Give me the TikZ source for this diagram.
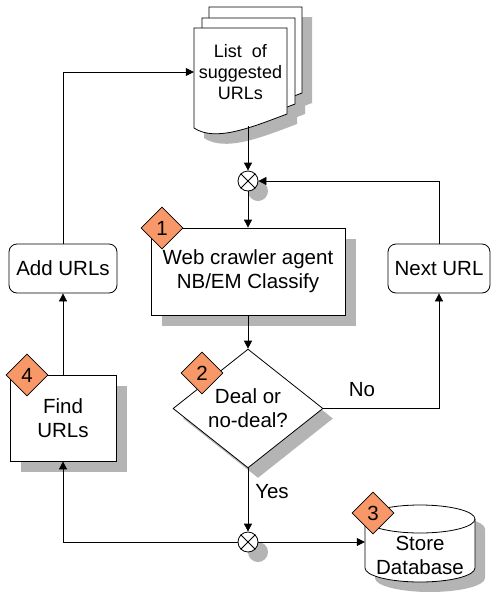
\documentclass[tikz,border=0pt]{standalone}
\usepackage{fontspec}
\setmainfont{Liberation Sans}
\usetikzlibrary{arrows.meta,shapes.geometric,shadows}
\definecolor{badgeorange}{RGB}{248,152,104}
\definecolor{shadowgray}{RGB}{180,180,180}
\tikzset{
  conn/.style={draw=black, line width=0.8pt},
  arr/.style={conn, -{Triangle[length=8pt,width=8pt]}},
  txt/.style={font=\fontsize{20.5}{24}\selectfont, align=center},
  procbox/.style={txt, draw, line width=0.8pt, fill=white, inner sep=0pt},
  shad/.style={drop shadow={shadow xshift=#1, shadow yshift=-#1, opacity=1, fill=shadowgray}},
  roundbox/.style={procbox, rounded corners=8pt, minimum height=49pt},
  junction/.style={circle, draw, line width=0.8pt, fill=white, minimum size=20pt, inner sep=0pt, shad=10pt},
  badge/.style={diamond, draw, line width=0.8pt, fill=badgeorange, minimum size=42pt, inner sep=0pt, txt},
  pageshape/.style={fill=white, draw=black, line width=0.8pt},
}
\begin{document}
\begin{tikzpicture}[x=1pt,y=-1pt]
\useasboundingbox (0,0) rectangle (491,598);
\fill[white] (0,0) rectangle (491,598);

% stacked document: shadows first
\foreach \dx/\dy in {15/-21, 8/-10, 0/0}{
  \fill[shadowgray, shift={(\dx+10,\dy+10)}] (194,28) -- (287,28) -- (287,114)
     .. controls (250,128) and (215,142) .. (194,128) -- cycle;
}
\foreach \dx/\dy in {15/-21, 8/-10, 0/0}{
  \filldraw[pageshape, shift={(\dx,\dy)}] (194,28) -- (287,28) -- (287,114)
     .. controls (250,128) and (215,142) .. (194,128) -- cycle;
}
\node[font=\fontsize{18}{21}\selectfont, align=center, minimum width=93pt, inner sep=0pt] (doc) at (240.5,72) {List~ of\\suggested\\URLs};
\coordinate (docb) at (248,126);

% junctions
\node[junction] (j1) at (248,181) {};
\draw[line width=0.8pt] (j1.north west) -- (j1.south east) (j1.north east) -- (j1.south west);
\node[junction] (j2) at (248,542) {};
\draw[line width=0.8pt] (j2.north west) -- (j2.south east) (j2.north east) -- (j2.south west);

% main process
\node[procbox, shad=11pt, minimum width=194pt, minimum height=87pt] (crawl) at (248,271.5) {Web crawler agent\\NB/EM Classify};

% decision
\node[diamond, draw, line width=0.8pt, fill=white, minimum width=150pt, minimum height=107pt, inner sep=0pt, txt, shad=10pt] (dec) at (248,408.5) {Deal or\\no-deal?};

% side boxes
\node[roundbox, minimum width=108pt] (add) at (63,268.5) {Add URLs};
\node[roundbox, minimum width=102pt] (next) at (439,268.5) {Next URL};
\node[procbox, shad=11pt, minimum width=106pt, minimum height=86pt] (find) at (63,418) {Find\\URLs};

% database cylinder
\begin{scope}[shift={(10,10)}]
\fill[shadowgray] (365,519) -- (365,568) arc[start angle=180, end angle=360, x radius=55pt, y radius=14pt]
   -- (475,519) arc[start angle=0, end angle=180, x radius=55pt, y radius=14pt] -- cycle;
\end{scope}
\filldraw[pageshape] (365,519) -- (365,568) arc[start angle=180, end angle=360, x radius=55pt, y radius=14pt]
   -- (475,519) arc[start angle=0, end angle=180, x radius=55pt, y radius=14pt] -- cycle;
\draw[line width=0.8pt] (365,519) arc[start angle=180, end angle=360, x radius=55pt, y radius=14pt];
\node[txt, inner sep=0pt, minimum width=110pt] (db) at (420,555) {Store\\Database};

% connectors
\draw[arr] (docb) -- (j1.north);
\draw[arr] (j1.south) -- (crawl.north);
\draw[arr] (crawl.south) -- (dec.north);
\draw[arr] (dec.south) -- (j2.north);
\draw[arr] (j2.east) -- (j2.east -| db.west);
\draw[arr] (j2.west) -| (find.south);
\draw[arr] (find.north) -- (add.south);
\draw[arr] (add.north) |- (doc.west);
\draw[arr] (dec.east) -| (next.south);
\draw[arr] (next.north) |- (j1.east);

% labels
\node[txt] (nolbl) at (362,390) {No};
\node[txt] (yeslbl) at (272,492) {Yes};

% badges
\node[badge] (b1) at (162,228) {1};
\node[badge] (b2) at (202,373) {2};
\node[badge] (b3) at (373,513) {3};
\node[badge] (b4) at (27,375) {4};
\end{tikzpicture}
\end{document}
